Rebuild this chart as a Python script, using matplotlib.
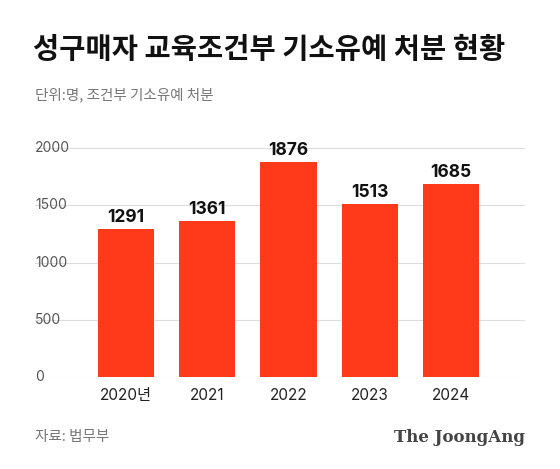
import matplotlib
matplotlib.use("Agg")
import matplotlib.pyplot as plt

plt.rcParams['font.family'] = ['Noto Sans CJK KR', 'DejaVu Sans']

years = ["2020년", "2021", "2022", "2023", "2024"]
values = [1291, 1361, 1876, 1513, 1685]
yticks = [0, 500, 1000, 1500, 2000]

W, H = 560, 469
fig = plt.figure(figsize=(W/100, H/100), dpi=100)
ax = fig.add_axes([35/W, 1-377/H, 490/W, 237/H])
x = range(len(years))
ax.bar(x, values, width=0.69, color='#FF3A1A', zorder=3)
for i, v in zip(x, values):
    ax.text(i, v + 25, str(v), ha='center', va='bottom', fontsize=12.5, fontweight='bold',
            family=['Inter', 'DejaVu Sans'], color='#111111')
ax.set_xlim(-1.12, 4.91)
ax.set_ylim(0, 2070)
ax.set_yticks(yticks)
ax.set_yticklabels([str(t) for t in yticks])
ax.set_xticks(list(x))
ax.set_xticklabels(years)
ax.tick_params(axis='y', length=0, pad=0, labelsize=10, labelcolor='#555555')
ax.tick_params(axis='x', length=0, pad=8, labelsize=11, labelcolor='#222222')
for lbl in ax.get_yticklabels():
    lbl.set_ha('left'); lbl.set_va('center'); lbl.set_family(['Inter', 'DejaVu Sans'])
for lbl in ax.get_xticklabels():
    lbl.set_family(['Inter', 'Noto Sans CJK KR'])
ax.grid(axis='y', color='#dddddd', linewidth=0.8, zorder=0)
for s in ax.spines.values():
    s.set_visible(False)

fig.text(33/W, 1-50/H, "성구매자 교육조건부 기소유예 처분 현황", fontsize=20.5, fontweight='bold', va='center', color='#111111')
fig.text(35/W, 1-95/H, "단위:명, 조건부 기소유예 처분", fontsize=10.5, va='center', color='#777777')
fig.text(35/W, 1-437/H, "자료: 법무부", fontsize=10.5, va='center', color='#777777')
fig.text(525/W, 1-437/H, "The JoongAng", fontsize=12, fontweight='bold', family='DejaVu Serif', ha='right', va='center', color='#444444')
fig.savefig("out.png", dpi=100, facecolor='white')
